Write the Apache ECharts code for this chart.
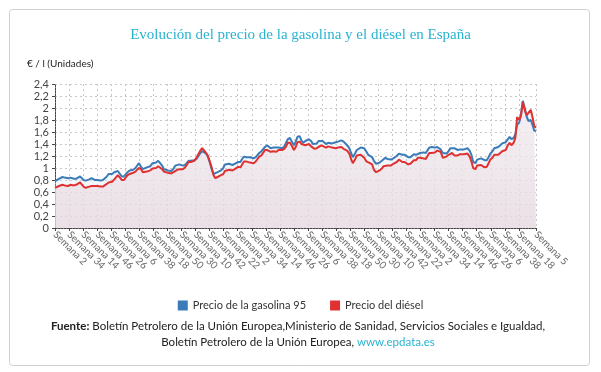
<!DOCTYPE html>
<html><head><meta charset="utf-8">
<script src="https://cdn.jsdelivr.net/npm/echarts@6/dist/echarts.min.js"></script>
<style>html,body{margin:0;padding:0;background:#fff}#c{width:601px;height:372px}</style>
</head><body><div id="c"></div><script>
// Weekly category axis: Semana 2 (2002) ... Semana 5 (2023)
const firstWeek = 2;
const weekCount = 1096;
const labelEvery = 32;

// Monthly readings, Jan 2002 ... Jan 2023 (€/l)
const gasolina95 = [
  0.78,0.78,0.82,0.85,0.85,0.84,0.84,0.83,0.84,0.85,0.82,0.82, // 2002
  0.84,0.86,0.86,0.80,0.79,0.80,0.81,0.83,0.81,0.80,0.80,0.80, // 2003
  0.79,0.80,0.82,0.85,0.90,0.90,0.90,0.93,0.92,0.95,0.90,0.86, // 2004
  0.86,0.88,0.93,0.96,0.93,0.97,1.00,1.03,1.08,1.02,0.98,0.99, // 2005
  1.01,1.02,1.03,1.08,1.10,1.09,1.12,1.14,1.04,0.98,0.96,0.96, // 2006
  0.94,0.95,0.99,1.04,1.07,1.06,1.05,1.04,1.05,1.08,1.12,1.12, // 2007
  1.13,1.13,1.15,1.18,1.24,1.28,1.30,1.24,1.19,1.10,0.97,0.90, // 2008
  0.90,0.93,0.93,0.96,1.00,1.06,1.04,1.07,1.05,1.05,1.07,1.06, // 2009
  1.10,1.10,1.15,1.19,1.18,1.17,1.18,1.17,1.16,1.18,1.21,1.25, // 2010
  1.28,1.30,1.35,1.38,1.36,1.33,1.34,1.35,1.34,1.34,1.33,1.33, // 2011
  1.36,1.42,1.48,1.50,1.44,1.38,1.44,1.52,1.53,1.46,1.42,1.45, // 2012
  1.45,1.48,1.45,1.40,1.40,1.41,1.45,1.46,1.45,1.42,1.40,1.42, // 2013
  1.42,1.41,1.41,1.43,1.44,1.45,1.46,1.44,1.42,1.38,1.33,1.25, // 2014
  1.18,1.24,1.30,1.30,1.34,1.34,1.33,1.27,1.22,1.21,1.18,1.12, // 2015
  1.07,1.06,1.09,1.12,1.15,1.17,1.15,1.13,1.14,1.16,1.16,1.20, // 2016
  1.24,1.24,1.22,1.22,1.20,1.18,1.18,1.20,1.23,1.22,1.25,1.25, // 2017
  1.27,1.26,1.25,1.28,1.34,1.35,1.34,1.34,1.35,1.37,1.31,1.25, // 2018
  1.23,1.24,1.28,1.33,1.36,1.33,1.32,1.30,1.31,1.32,1.31,1.32, // 2019
  1.33,1.29,1.22,1.10,1.08,1.14,1.16,1.16,1.15,1.13,1.13,1.18, // 2020
  1.24,1.28,1.33,1.33,1.35,1.38,1.41,1.42,1.43,1.48,1.52,1.48, // 2021
  1.50,1.56,1.72,1.76,1.90,2.12,1.98,1.85,1.78,1.80,1.72,1.62, // 2022
  1.62                                                         // 2023
];
const diesel = [
  0.67,0.67,0.70,0.72,0.72,0.71,0.70,0.70,0.72,0.74,0.71,0.72, // 2002
  0.73,0.76,0.75,0.69,0.67,0.68,0.69,0.70,0.69,0.70,0.70,0.69, // 2003
  0.69,0.69,0.71,0.73,0.76,0.76,0.77,0.81,0.83,0.88,0.84,0.80, // 2004
  0.80,0.82,0.88,0.90,0.88,0.92,0.94,0.97,1.00,0.98,0.93,0.92, // 2005
  0.94,0.95,0.96,0.99,1.00,1.00,1.03,1.05,0.98,0.94,0.93,0.92, // 2006
  0.90,0.91,0.93,0.96,0.97,0.98,0.99,0.98,1.01,1.05,1.10,1.10, // 2007
  1.10,1.12,1.17,1.20,1.28,1.33,1.33,1.25,1.20,1.12,1.00,0.88, // 2008
  0.83,0.85,0.86,0.88,0.90,0.95,0.93,0.97,0.94,0.96,0.98,0.98, // 2009
  1.02,1.01,1.06,1.11,1.11,1.09,1.09,1.08,1.08,1.11,1.15,1.19, // 2010
  1.21,1.24,1.30,1.30,1.28,1.27,1.28,1.27,1.27,1.30,1.32,1.30, // 2011
  1.32,1.36,1.42,1.42,1.37,1.30,1.35,1.43,1.44,1.40,1.37,1.38, // 2012
  1.37,1.40,1.36,1.33,1.32,1.33,1.36,1.37,1.37,1.34,1.34,1.36, // 2013
  1.35,1.34,1.33,1.33,1.34,1.35,1.35,1.32,1.32,1.29,1.24,1.15, // 2014
  1.08,1.14,1.21,1.19,1.22,1.20,1.17,1.11,1.08,1.08,1.06,0.97, // 2015
  0.93,0.92,0.96,0.99,1.03,1.06,1.04,1.02,1.04,1.07,1.06,1.10, // 2016
  1.14,1.13,1.10,1.10,1.09,1.06,1.07,1.09,1.13,1.13,1.17,1.17, // 2017
  1.18,1.16,1.15,1.18,1.25,1.25,1.25,1.26,1.29,1.32,1.27,1.17, // 2018
  1.15,1.19,1.22,1.24,1.25,1.21,1.22,1.21,1.23,1.24,1.23,1.25, // 2019
  1.24,1.19,1.11,1.00,0.98,1.04,1.06,1.05,1.03,1.01,1.02,1.08, // 2020
  1.14,1.17,1.22,1.21,1.22,1.25,1.28,1.28,1.30,1.38,1.42,1.38, // 2021
  1.42,1.50,1.85,1.80,1.88,2.10,1.95,1.88,1.85,1.97,1.85,1.70, // 2022
  1.67                                                         // 2023
];
const seriesNames = ['Precio de la gasolina 95', 'Precio del diésel'];
const seriesColors = ['#3b7bb8', '#e03131'];

const weeks = [];
for (let i = 0; i < weekCount; i++) weeks.push('Semana ' + (((firstWeek - 1 + i) % 52) + 1));
const monthToWeek = m => Math.min(weekCount - 1, Math.round(m * 52.18 / 12));
const lastIdx = weekCount - 1;
const showIdx = i => (i % labelEvery === 0 && i + labelEvery <= lastIdx) || i === lastIdx;

const chart = echarts.init(document.getElementById('c'), null, {renderer: 'canvas'});
const fontSans = 'Lato, "Open Sans", sans-serif';
chart.setOption({
  animation: false,
  backgroundColor: '#fff',
  title: {
    text: 'Evolución del precio de la gasolina y el diésel en España',
    left: 'center', top: 23,
    textStyle: {fontFamily: '"Liberation Serif", serif', fontWeight: 'normal', fontSize: 15, color: '#2ab3d1'}
  },
  graphic: [
    {type: 'rect', shape: {x: 9.5, y: 9.5, width: 580, height: 356, r: 3}, style: {fill: 'none', stroke: '#d0d0d0', lineWidth: 1}, z: -1},
    {type: 'text', left: 27, top: 59, style: {text: '€ / l (Unidades)', font: '10px ' + fontSans, fill: '#222'}},
    {type: 'text', x: 298, y: 318, style: {
      text: '{b|Fuente:} Boletín Petrolero de la Unión Europea,Ministerio de Sanidad, Servicios Sociales e Igualdad,\nBoletín Petrolero de la Unión Europea, {l|www.epdata.es}',
      align: 'center', lineHeight: 16, font: '11.5px ' + fontSans, fill: '#222',
      rich: {b: {fontWeight: 'bold', fontSize: 11.5, fontFamily: 'Lato, sans-serif', fill: '#222'}, l: {fill: '#2ab3d1', fontSize: 11.5, fontFamily: 'Lato, sans-serif'}}
    }}
  ],
  legend: {
    top: 295, left: 'center', icon: 'rect', itemWidth: 10, itemHeight: 10, itemGap: 24,
    textStyle: {fontFamily: fontSans, fontSize: 11, color: '#333'},
    data: seriesNames
  },
  grid: {left: 55, right: 65, top: 84, bottom: 144, containLabel: false},
  xAxis: {
    type: 'category', boundaryGap: false, data: weeks,
    axisLine: {lineStyle: {color: '#444', type: [2, 1]}},
    axisTick: {show: true, interval: showIdx, length: 3, lineStyle: {color: '#444'}},
    axisLabel: {interval: showIdx, rotate: -45, fontSize: 10, color: '#666', fontFamily: fontSans, margin: 5},
    splitLine: {show: true, interval: showIdx, lineStyle: {color: '#c8c8c8', type: [2, 3]}}
  },
  yAxis: {
    type: 'value', min: 0, max: 2.4, interval: 0.2,
    axisLine: {show: true, lineStyle: {color: '#444', type: [2, 1]}},
    axisTick: {show: true, length: 3, lineStyle: {color: '#444'}},
    axisLabel: {fontSize: 11, color: '#444', fontFamily: fontSans, margin: 6,
      formatter: v => String(Math.round(v * 10) / 10).replace('.', ',')},
    splitLine: {lineStyle: {color: '#c8c8c8', type: [2, 3]}}
  },
  series: [
    {name: seriesNames[0], type: 'line', showSymbol: false, color: seriesColors[0],
      lineStyle: {width: 2, color: seriesColors[0]},
      areaStyle: {color: 'rgba(215,230,244,0.45)'},
      data: gasolina95.map((v, m) => [monthToWeek(m), v])},
    {name: seriesNames[1], type: 'line', showSymbol: false, color: seriesColors[1],
      lineStyle: {width: 2, color: seriesColors[1]},
      areaStyle: {color: new echarts.graphic.LinearGradient(0, 0, 0, 1, [
        {offset: 0, color: 'rgba(246,238,241,1)'}, {offset: 1, color: 'rgba(231,214,221,1)'}])},
      data: diesel.map((v, m) => [monthToWeek(m), v])}
  ]
});
</script></body></html>
